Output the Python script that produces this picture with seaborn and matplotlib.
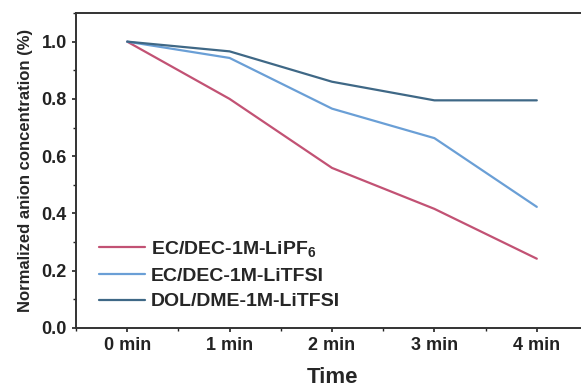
import numpy as np
import pandas as pd
import matplotlib
matplotlib.use("Agg")
import matplotlib.pyplot as plt
from matplotlib.ticker import MultipleLocator
import seaborn as sns

times = ["0 min", "1 min", "2 min", "3 min", "4 min"]
lipf6_ec_dec = [1.0, 0.80, 0.559, 0.416, 0.242]
litfsi_ec_dec = [1.0, 0.943, 0.766, 0.663, 0.423]
litfsi_dol_dme = [1.0, 0.966, 0.860, 0.795, 0.795]
series_names = ["EC/DEC-1M-LiPF$_6$", "EC/DEC-1M-LiTFSI", "DOL/DME-1M-LiTFSI"]
colors = ["#c25274", "#6a9fd6", "#3f6886"]

sns.set_style("ticks")
plt.rcParams["font.family"] = ["Liberation Sans", "DejaVu Sans"]
plt.rcParams["font.weight"] = "bold"
plt.rcParams["mathtext.fontset"] = "custom"
plt.rcParams["mathtext.bf"] = "Liberation Sans:bold"
plt.rcParams["mathtext.rm"] = "Liberation Sans:bold"
plt.rcParams["mathtext.default"] = "bf"

df = pd.DataFrame({
    "t": np.tile(np.arange(len(times)), 3),
    "value": lipf6_ec_dec + litfsi_ec_dec + litfsi_dol_dme,
    "series": np.repeat(series_names, len(times)),
})

fig = plt.figure(figsize=(5.81, 3.92), dpi=100)
ax = fig.add_axes([76 / 581, 1 - 328 / 392, (588 - 76) / 581, (328 - 13) / 392])

sns.lineplot(data=df, x="t", y="value", hue="series", palette=colors,
             hue_order=series_names, linewidth=1.6, ax=ax)

ax.set_xlim(-0.5, 4.5)
ax.set_ylim(0, 1.1)
ax.set_xticks(range(len(times)))
ax.set_xticklabels(times)
ax.xaxis.set_minor_locator(MultipleLocator(0.5))
ax.set_yticks([0.0, 0.2, 0.4, 0.6, 0.8, 1.0])
ax.yaxis.set_minor_locator(MultipleLocator(0.1))
ax.tick_params(axis="both", which="major", direction="out", length=3, width=1.2,
               labelsize=13, colors="#222222", pad=3.5)
ax.tick_params(axis="both", which="minor", direction="out", length=2, width=1.0,
               colors="#222222")
for lab in ax.get_xticklabels() + ax.get_yticklabels():
    lab.set_fontweight("bold")

for side in ["left", "bottom", "top", "right"]:
    ax.spines[side].set_visible(True)
    ax.spines[side].set_linewidth(1.4)
    ax.spines[side].set_color("#333333")

ax.set_xlabel("Time", fontsize=16, fontweight="bold", labelpad=9)
ax.set_ylabel("Normalized anion concentration (%)", fontsize=12,
              fontweight="bold", labelpad=6)

leg = ax.legend(loc="lower left", bbox_to_anchor=(0.01, 0.0), frameon=False,
                fontsize=14, handlelength=2.4, handletextpad=0.3,
                labelspacing=0.43)
for t in leg.get_texts():
    t.set_fontweight("bold")

fig.savefig("out.png", dpi=100)
